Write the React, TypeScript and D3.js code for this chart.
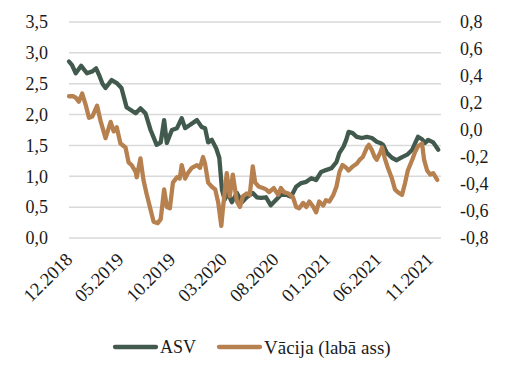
import React from "react";
import * as d3 from "d3";

const asvDates = [
  "2018-12-01","2018-12-10","2018-12-21","2019-01-06","2019-01-23","2019-02-08","2019-02-19","2019-02-28",
  "2019-03-10","2019-03-19","2019-04-06","2019-04-21","2019-05-05","2019-05-20","2019-06-16","2019-06-30",
  "2019-07-15","2019-07-30","2019-08-17","2019-08-29","2019-09-08","2019-09-16","2019-10-01","2019-10-16",
  "2019-10-30","2019-11-09","2019-11-23","2019-12-14","2019-12-28","2020-01-07","2020-01-16","2020-01-27",
  "2020-02-09","2020-02-18","2020-02-26","2020-03-05","2020-03-14","2020-03-26","2020-04-10","2020-04-25",
  "2020-05-09","2020-05-27","2020-06-08","2020-06-20","2020-07-05","2020-07-19","2020-08-04","2020-08-18",
  "2020-09-03","2020-09-17","2020-10-02","2020-10-17","2020-11-01","2020-11-16","2020-11-30","2020-12-15",
  "2020-12-29","2021-01-14","2021-01-29","2021-02-07","2021-02-19","2021-02-27","2021-03-06","2021-03-18",
  "2021-03-30","2021-04-14","2021-04-29","2021-05-14","2021-05-28","2021-06-07","2021-06-16","2021-06-27",
  "2021-07-12","2021-07-26","2021-08-11","2021-08-26","2021-09-10","2021-09-19","2021-09-27","2021-10-09",
  "2021-10-18","2021-10-27","2021-11-11","2021-11-26"
];
const asvValues = [
  2.86, 2.80, 2.67, 2.79, 2.67, 2.70, 2.75, 2.64,
  2.50, 2.43, 2.56, 2.51, 2.43, 2.12, 2.02, 2.10,
  2.02, 1.75, 1.51, 1.55, 1.91, 1.54, 1.75, 1.78,
  1.94, 1.78, 1.83, 1.91, 1.80, 1.78, 1.55, 1.59,
  1.45, 1.30, 0.78, 0.62, 0.73, 0.58, 0.73, 0.58,
  0.66, 0.73, 0.66, 0.65, 0.66, 0.53, 0.62, 0.70,
  0.70, 0.67, 0.83, 0.89, 0.91, 0.97, 0.94, 1.07,
  1.10, 1.13, 1.23, 1.38, 1.48, 1.59, 1.72, 1.70,
  1.64, 1.62, 1.64, 1.62, 1.56, 1.54, 1.51, 1.38,
  1.30, 1.26, 1.31, 1.35, 1.43, 1.54, 1.64, 1.60,
  1.54, 1.59, 1.55, 1.43
];

const deDates = [
  "2018-12-01","2018-12-13","2018-12-21","2018-12-30","2019-01-09","2019-01-20","2019-01-29","2019-02-08",
  "2019-02-22","2019-03-04","2019-03-19","2019-04-03","2019-04-12","2019-04-21","2019-05-02","2019-05-17",
  "2019-05-26","2019-06-04","2019-06-16","2019-06-19","2019-06-30","2019-07-09","2019-07-18","2019-07-30",
  "2019-08-08","2019-08-20","2019-08-29","2019-09-08","2019-09-16","2019-09-25","2019-10-04","2019-10-16",
  "2019-10-24","2019-10-30","2019-11-09","2019-11-17","2019-11-29","2019-12-14","2019-12-23","2020-01-01",
  "2020-01-07","2020-01-16","2020-01-27","2020-02-06","2020-02-15","2020-02-24","2020-02-28","2020-03-11",
  "2020-03-20","2020-03-29","2020-04-10","2020-04-19","2020-04-28","2020-05-09","2020-05-18","2020-05-27",
  "2020-06-03","2020-06-14","2020-06-26","2020-07-05","2020-07-14","2020-07-28","2020-08-10","2020-08-18",
  "2020-08-27","2020-09-09","2020-09-23","2020-10-02","2020-10-11","2020-10-23","2020-11-01","2020-11-10",
  "2020-11-22","2020-11-30","2020-12-09","2020-12-21","2020-12-29","2021-01-08","2021-01-20","2021-01-29",
  "2021-02-07","2021-02-16","2021-02-27","2021-03-06","2021-03-18","2021-03-30","2021-04-08","2021-04-17",
  "2021-04-29","2021-05-05","2021-05-14","2021-05-22","2021-05-28","2021-06-07","2021-06-13","2021-06-21",
  "2021-06-30","2021-07-12","2021-07-21","2021-07-29","2021-08-11","2021-08-20","2021-08-28","2021-09-10",
  "2021-09-19","2021-09-27","2021-10-09","2021-10-15","2021-10-24","2021-11-02","2021-11-11","2021-11-23"
];
const deValues = [
  0.25, 0.25, 0.24, 0.21, 0.27, 0.18, 0.09, 0.10,
  0.18, 0.07, -0.06, 0.06, -0.01, 0.02, -0.10, -0.13,
  -0.24, -0.26, -0.31, -0.35, -0.21, -0.37, -0.47, -0.59,
  -0.68, -0.69, -0.66, -0.44, -0.57, -0.58, -0.39, -0.35,
  -0.36, -0.26, -0.36, -0.32, -0.28, -0.26, -0.28, -0.20,
  -0.25, -0.39, -0.42, -0.44, -0.54, -0.71, -0.60, -0.32,
  -0.49, -0.33, -0.53, -0.57, -0.49, -0.47, -0.48, -0.27,
  -0.39, -0.42, -0.43, -0.44, -0.46, -0.43, -0.48, -0.43,
  -0.46, -0.47, -0.50, -0.57, -0.58, -0.54, -0.57, -0.53,
  -0.57, -0.61, -0.53, -0.56, -0.52, -0.53, -0.48, -0.42,
  -0.31, -0.26, -0.28, -0.30, -0.27, -0.25, -0.22, -0.20,
  -0.13, -0.11, -0.15, -0.20, -0.22, -0.17, -0.13, -0.21,
  -0.28, -0.36, -0.44, -0.46, -0.48, -0.39, -0.30, -0.22,
  -0.16, -0.12, -0.10, -0.22, -0.30, -0.33, -0.32, -0.37
];

const xTickDates = ["2018-12-01","2019-05-01","2019-10-01","2020-03-01","2020-08-01","2021-01-01","2021-06-01","2021-11-01"];
const leftTicks = [0, 0.5, 1, 1.5, 2, 2.5, 3, 3.5];
const rightTicks = [-0.8, -0.6, -0.4, -0.2, 0, 0.2, 0.4, 0.6, 0.8];
const seriesNames = ["ASV", "Vācija (labā ass)"];

const W = 506, H = 378;
const GREEN = "#415a4d";
const ORANGE = "#b7804f";
const FONT = "'Liberation Serif', 'Times New Roman', serif";

export default function App() {
  const parse = d3.timeParse("%Y-%m-%d");
  const x = d3.scaleTime()
    .domain([parse("2018-12-01")!, parse("2021-12-04")!])
    .range([69, 441]);
  const yL = d3.scaleLinear().domain([0, 3.5]).range([238, 22]);
  const yR = d3.scaleLinear().domain([-0.8, 0.8]).range([238, 22]);

  const asv = asvDates.map((d, i) => ({ d: parse(d)!, v: asvValues[i] }));
  const de = deDates.map((d, i) => ({ d: parse(d)!, v: deValues[i] }));

  const lineL = d3.line<{ d: Date; v: number }>().x(p => x(p.d)).y(p => yL(p.v));
  const lineR = d3.line<{ d: Date; v: number }>().x(p => x(p.d)).y(p => yR(p.v));

  const fmt1 = (v: number) => d3.format(".1f")(v).replace(".", ",").replace("−", "-");
  const fmtX = d3.timeFormat("%m.%Y");

  return (
    <svg width={W} height={H} style={{ position: "absolute", left: 0, top: 0, background: "#fff" }} fontFamily={FONT}>
      {leftTicks.map(t => (
        <line key={"g" + t} x1={69} x2={441} y1={yL(t)} y2={yL(t)} stroke="#d9d9d9" strokeWidth={1.5} />
      ))}
      {leftTicks.map(t => (
        <text key={"l" + t} x={48} y={yL(t)} dy="0.35em" textAnchor="end" fontSize={18} fill="#1a1a1a">{fmt1(t)}</text>
      ))}
      {rightTicks.map(t => (
        <text key={"r" + t} x={460} y={yR(t)} dy="0.35em" textAnchor="start" fontSize={18} fill="#1a1a1a">{fmt1(t)}</text>
      ))}
      {xTickDates.map(s => {
        const px = x(parse(s)!);
        return (
          <text key={s} transform={`translate(${px},${256}) rotate(-45)`} textAnchor="end" dy="0.35em" fontSize={18.5} fill="#1a1a1a">
            {fmtX(parse(s)!)}
          </text>
        );
      })}
      <path d={lineL(asv) ?? ""} fill="none" stroke={GREEN} strokeWidth={4.3} strokeLinejoin="round" strokeLinecap="round" />
      <path d={lineR(de) ?? ""} fill="none" stroke={ORANGE} strokeWidth={4.3} strokeLinejoin="round" strokeLinecap="round" />
      <line x1={115} x2={156} y1={347} y2={347} stroke={GREEN} strokeWidth={4.3} strokeLinecap="round" />
      <text x={160} y={347} dy="0.35em" fontSize={18} fill="#1a1a1a">{seriesNames[0]}</text>
      <line x1={219} x2={260} y1={347} y2={347} stroke={ORANGE} strokeWidth={4.3} strokeLinecap="round" />
      <text x={264} y={347} dy="0.35em" fontSize={19} fill="#1a1a1a">{seriesNames[1]}</text>
    </svg>
  );
}
